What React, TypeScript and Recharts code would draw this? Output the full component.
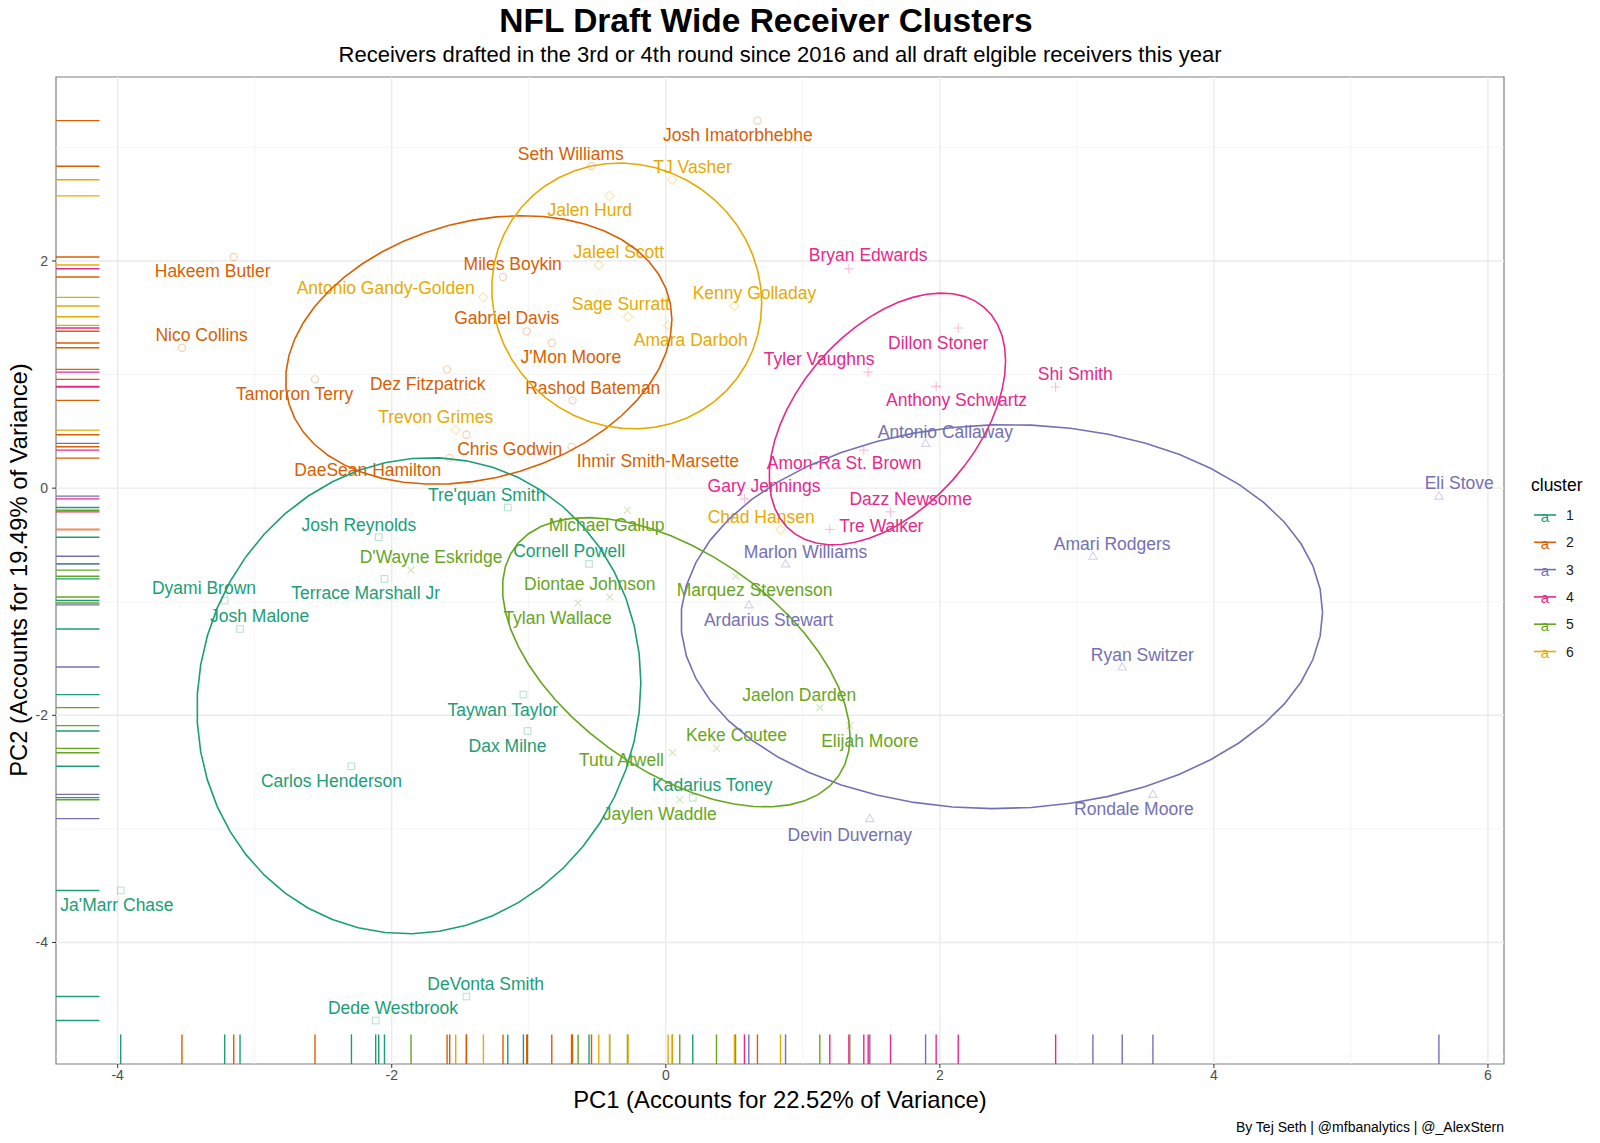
import React from 'react';
import { ScatterChart, Scatter, XAxis, YAxis, ReferenceLine, ReferenceArea } from 'recharts';

type Row = [string, number, number];
type Spot = [number, number];

const CLUSTERS = ['1', '2', '3', '4', '5', '6'];

// [receiver, PC1, PC2]
const cluster1: Row[] = [
  ["Tre'quan Smith", -1.153, -0.17],
  ['Josh Reynolds', -2.095, -0.432],
  ['Terrace Marshall Jr', -2.053, -0.799],
  ['Dyami Brown', -3.219, -0.989],
  ['Josh Malone', -3.107, -1.24],
  ['Cornell Powell', -0.56, -0.667],
  ['Taywan Taylor', -1.039, -1.818],
  ['Dax Milne', -1.009, -2.138],
  ['Carlos Henderson', -2.294, -2.449],
  ['Kadarius Toney', 0.197, -2.725],
  ["Ja'Marr Chase", -3.978, -3.542],
  ['DeVonta Smith', -1.455, -4.476],
  ['Dede Westbrook', -2.117, -4.687],
];
const cluster2: Row[] = [
  ['Hakeem Butler', -3.153, 2.035],
  ['Nico Collins', -3.531, 1.236],
  ['Tamorron Terry', -2.56, 0.958],
  ['Dez Fitzpatrick', -1.596, 1.046],
  ['Miles Boykin', -1.188, 1.859],
  ['Gabriel Davis', -1.015, 1.381],
  ["J'Mon Moore", -0.832, 1.278],
  ['Seth Williams', -0.542, 2.834],
  ['Josh Imatorbhebhe', 0.669, 3.236],
  ['Rashod Bateman', -0.681, 0.773],
  ['Chris Godwin', -1.455, 0.47],
  ['DaeSean Hamilton', -1.577, 0.264],
  ['Ihmir Smith-Marsette', -0.688, 0.364],
];
const cluster3: Row[] = [
  ['Antonio Callaway', 1.896, 0.394],
  ['Eli Stove', 5.642, -0.07],
  ['Amari Rodgers', 3.117, -0.599],
  ['Marlon Williams', 0.874, -0.667],
  ['Ardarius Stewart', 0.606, -1.028],
  ['Ryan Switzer', 3.331, -1.574],
  ['Rondale Moore', 3.555, -2.696],
  ['Devin Duvernay', 1.489, -2.91],
];
const cluster4: Row[] = [
  ['Bryan Edwards', 1.336, 1.932],
  ['Dillon Stoner', 2.134, 1.41],
  ['Tyler Vaughns', 1.477, 1.022],
  ['Anthony Schwartz', 1.973, 0.896],
  ['Shi Smith', 2.845, 0.89],
  ['Amon-Ra St. Brown', 1.445, 0.335],
  ['Gary Jennings', 0.574, -0.094],
  ['Dazz Newsome', 1.64, -0.209],
  ['Tre Walker', 1.197, -0.364],
];
const cluster5: Row[] = [
  ['Michael Gallup', -0.28, -0.194],
  ["D'Wayne Eskridge", -1.859, -0.722],
  ['Diontae Johnson', -0.409, -0.958],
  ['Tylan Wallace', -0.64, -1.011],
  ['Marquez Stevenson', 0.509, -0.775],
  ['Jaelon Darden', 1.124, -1.932],
  ['Elijah Moore', 1.343, -2.091],
  ['Keke Coutee', 0.37, -2.291],
  ['Tutu Atwell', 0.049, -2.329],
  ['Jaylen Waddle', 0.102, -2.743],
];
const cluster6: Row[] = [
  ['TJ Vasher', 0.046, 2.716],
  ['Jalen Hurd', -0.411, 2.573],
  ['Jaleel Scott', -0.489, 1.965],
  ['Antonio Gandy-Golden', -1.331, 1.68],
  ['Sage Surratt', -0.275, 1.509],
  ['Kenny Golladay', 0.501, 1.604],
  ['Amara Darboh', 0.017, 1.433],
  ['Trevon Grimes', -1.533, 0.511],
  ['Chad Hansen', 0.837, -0.364],
];

// where the repelled name labels sit, in PC units (same order as above)
const labels1: Spot[] = [
  [-1.307, -0.056], [-2.239, -0.323], [-2.19, -0.922], [-3.37, -0.878], [-2.964, -1.128],
  [-0.705, -0.552], [-1.19, -1.95], [-1.155, -2.267], [-2.44, -2.581], [0.339, -2.611],
  [-4.005, -3.668], [-1.314, -4.364], [-1.991, -4.575],
];
const labels2: Spot[] = [
  [-3.307, 1.912], [-3.387, 1.348], [-2.708, 0.828], [-1.737, 0.916], [-1.117, 1.974],
  [-1.161, 1.498], [-0.693, 1.154], [-0.693, 2.943], [0.526, 3.11], [-0.533, 0.881],
  [-1.139, 0.344], [-2.175, 0.159], [-0.058, 0.238],
];
const labels3: Spot[] = [
  [2.04, 0.496], [5.79, 0.041], [3.258, -0.496], [1.02, -0.561], [0.75, -1.163],
  [3.478, -1.465], [3.416, -2.828], [1.343, -3.051],
];
const labels4: Spot[] = [
  [1.477, 2.05], [1.988, 1.28], [1.119, 1.134], [2.122, 0.773], [2.988, 1.007],
  [1.301, 0.218], [0.717, 0.018], [1.787, -0.097], [1.573, -0.335],
];
const labels5: Spot[] = [
  [-0.431, -0.32], [-1.713, -0.605], [-0.555, -0.846], [-0.79, -1.139], [0.648, -0.899],
  [0.974, -1.818], [1.489, -2.226], [0.516, -2.176], [-0.323, -2.396], [-0.044, -2.872],
];
const labels6: Spot[] = [
  [0.195, 2.828], [-0.555, 2.449], [-0.343, 2.079], [-2.044, 1.759], [-0.328, 1.619],
  [0.647, 1.718], [0.182, 1.301], [-1.679, 0.628], [0.696, -0.253],
];

const xMajor = [-4, -2, 0, 2, 4, 6];
const xMinor = [-3, -1, 1, 3, 5];
const yMajor = [-4, -2, 0, 2];
const yMinor = [-5, -3, -1, 1, 3];

const ROWS = [cluster1, cluster2, cluster3, cluster4, cluster5, cluster6];
const LABELS = [labels1, labels2, labels3, labels4, labels5, labels6];
const COLORS = ['#1B9E77', '#D95F02', '#7570B3', '#E7298A', '#66A61E', '#E6AB02'];
const SHAPES = ['square', 'circle', 'triangle', 'plus', 'cross', 'diamond'];

const FONT = "'Liberation Sans', Arial, Helvetica, sans-serif";
const X_DOMAIN: [number, number] = [-4.45, 6.117];
const Y_DOMAIN: [number, number] = [-5.07, 3.62];
const PLOT_W = 1448;
const PLOT_H = 987;
const ELLIPSE_LEVEL = 0.675;

// MASS::cov.trob, like stat_ellipse(type = "t")
function covTrob(pts: { x: number; y: number }[]) {
  const n = pts.length;
  const nu = 5;
  let lx = pts.reduce((s, p) => s + p.x, 0) / n;
  let ly = pts.reduce((s, p) => s + p.y, 0) / n;
  let w = pts.map(() => 1);
  let X = pts.map((p) => [p.x - lx, p.y - ly]);
  for (let iter = 0; iter < 25; iter++) {
    const w0 = w.slice();
    X = pts.map((p) => [p.x - lx, p.y - ly]);
    const sw = w.reduce((s, v) => s + v, 0);
    let a = 0, b = 0, c = 0;
    X.forEach((d, i) => {
      a += (w[i] * d[0] * d[0]) / sw;
      b += (w[i] * d[0] * d[1]) / sw;
      c += (w[i] * d[1] * d[1]) / sw;
    });
    const det = a * c - b * b;
    const Q = X.map((d) => (c * d[0] * d[0] - 2 * b * d[0] * d[1] + a * d[1] * d[1]) / det);
    w = Q.map((q) => (nu + 2) / (nu + q));
    const sw2 = w.reduce((s, v) => s + v, 0);
    lx = pts.reduce((s, p, i) => s + w[i] * p.x, 0) / sw2;
    ly = pts.reduce((s, p, i) => s + w[i] * p.y, 0) / sw2;
    if (w.every((v, i) => Math.abs(v - w0[i]) < 0.01)) break;
  }
  let s11 = 0, s12 = 0, s22 = 0;
  X.forEach((d, i) => {
    s11 += w[i] * d[0] * d[0];
    s12 += w[i] * d[0] * d[1];
    s22 += w[i] * d[1] * d[1];
  });
  return { cx: lx, cy: ly, s11: s11 / n, s12: s12 / n, s22: s22 / n };
}

function ellipseOf(pts: { x: number; y: number }[]) {
  const v = covTrob(pts);
  const dfd = pts.length - 1;
  // qf(level, 2, dfd) has a closed form when df1 = 2
  const qf = (dfd / 2) * (Math.pow(1 - ELLIPSE_LEVEL, -2 / dfd) - 1);
  const r = Math.sqrt(2 * qf);
  const A = Math.sqrt(v.s11);
  const B = v.s12 / A;
  const C = Math.sqrt(v.s22 - B * B);
  const out: { x: number; y: number }[] = [];
  for (let k = 0; k <= 51; k++) {
    const t = (k * 2 * Math.PI) / 51;
    out.push({ x: v.cx + r * A * Math.cos(t), y: v.cy + r * (B * Math.cos(t) + C * Math.sin(t)) });
  }
  return out;
}

const groups = CLUSTERS.map((id, i) => {
  const pts = ROWS[i].map(([name, x, y]) => ({ name, x, y }));
  const labels = ROWS[i].map(([name], j) => ({ name, x: LABELS[i][j][0], y: LABELS[i][j][1] }));
  return {
    id,
    color: COLORS[i],
    shape: SHAPES[i],
    pts,
    labels,
    leftRug: pts.map((p) => ({ x: X_DOMAIN[0], y: p.y })),
    bottomRug: pts.map((p) => ({ x: p.x, y: Y_DOMAIN[0] })),
    ellipse: ellipseOf(pts),
  };
});

const marker = (kind: string, color: string) => (props: any) => {
  const { cx, cy } = props;
  const st = { fill: 'none', stroke: color, strokeOpacity: 0.3, strokeWidth: 1.1 };
  if (kind === 'square') return <rect x={cx - 3.3} y={cy - 3.3} width={6.6} height={6.6} {...st} />;
  if (kind === 'circle') return <circle cx={cx} cy={cy} r={3.6} {...st} />;
  if (kind === 'triangle')
    return <path d={`M${cx},${cy - 4.3}L${cx + 4.3},${cy + 3}L${cx - 4.3},${cy + 3}Z`} {...st} />;
  if (kind === 'plus') return <path d={`M${cx - 4.8},${cy}H${cx + 4.8}M${cx},${cy - 4.8}V${cy + 4.8}`} {...st} />;
  if (kind === 'cross')
    return <path d={`M${cx - 3.4},${cy - 3.4}L${cx + 3.4},${cy + 3.4}M${cx - 3.4},${cy + 3.4}L${cx + 3.4},${cy - 3.4}`} {...st} />;
  return <path d={`M${cx},${cy - 4.7}L${cx + 4.7},${cy}L${cx},${cy + 4.7}L${cx - 4.7},${cy}Z`} {...st} />;
};

const nameTag = (color: string) => (props: any) => (
  <text x={props.cx} y={props.cy} textAnchor="middle" dominantBaseline="central" fill={color} fontSize={17.5} fontFamily={FONT}>
    {props.payload.name}
  </text>
);

const leftTick = (color: string) => (props: any) => (
  <line x1={props.cx} x2={props.cx + PLOT_W * 0.03} y1={props.cy} y2={props.cy} stroke={color} strokeWidth={1.4} />
);
const bottomTick = (color: string) => (props: any) => (
  <line x1={props.cx} x2={props.cx} y1={props.cy} y2={props.cy - PLOT_H * 0.03} stroke={color} strokeWidth={1.4} />
);
const nothing = () => <g />;

export default function App() {
  return (
    <div style={{ position: 'absolute', left: 0, top: 0, width: 1600, height: 1143, background: '#fff', fontFamily: FONT }}>
      <div style={{ position: 'absolute', left: 766, top: 21, transform: 'translate(-50%, -50%)', fontSize: 33.5, fontWeight: 'bold', whiteSpace: 'nowrap', color: '#000' }}>
        NFL Draft Wide Receiver Clusters
      </div>
      <div style={{ position: 'absolute', left: 780, top: 55, transform: 'translate(-50%, -50%)', fontSize: 22, whiteSpace: 'nowrap', color: '#000' }}>
        Receivers drafted in the 3rd or 4th round since 2016 and all draft elgible receivers this year
      </div>

      <ScatterChart width={1600} height={1143} margin={{ top: 77, right: 96, bottom: 49, left: 18 }}>
        <XAxis type="number" dataKey="x" domain={X_DOMAIN} allowDataOverflow ticks={xMajor} height={30}
          axisLine={false} tickSize={4} tickLine={{ stroke: '#333333' }}
          tick={{ fill: '#4D4D4D', fontSize: 14, fontFamily: FONT }} />
        <YAxis type="number" dataKey="y" domain={Y_DOMAIN} allowDataOverflow ticks={yMajor} width={38}
          axisLine={false} tickSize={4} tickMargin={4} tickLine={{ stroke: '#333333' }}
          tick={{ fill: '#4D4D4D', fontSize: 14, fontFamily: FONT }} />

        {xMinor.map((v) => <ReferenceLine key={'xm' + v} x={v} stroke="#F2F2F2" strokeWidth={0.8} />)}
        {yMinor.map((v) => <ReferenceLine key={'ym' + v} y={v} stroke="#F2F2F2" strokeWidth={0.8} />)}
        {xMajor.map((v) => <ReferenceLine key={'xM' + v} x={v} stroke="#EBEBEB" strokeWidth={1.4} />)}
        {yMajor.map((v) => <ReferenceLine key={'yM' + v} y={v} stroke="#EBEBEB" strokeWidth={1.4} />)}

        {groups.map((g) => (
          <Scatter key={'lr' + g.id} data={g.leftRug} shape={leftTick(g.color)} isAnimationActive={false} />
        ))}
        {groups.map((g) => (
          <Scatter key={'br' + g.id} data={g.bottomRug} shape={bottomTick(g.color)} isAnimationActive={false} />
        ))}
        {groups.map((g) => (
          <Scatter key={'pt' + g.id} data={g.pts} shape={marker(g.shape, g.color)} isAnimationActive={false} />
        ))}
        {groups.map((g) => (
          <Scatter key={'lb' + g.id} data={g.labels} shape={nameTag(g.color)} isAnimationActive={false} />
        ))}
        {groups.map((g) => (
          <Scatter key={'el' + g.id} data={g.ellipse} shape={nothing} line={{ stroke: g.color, strokeWidth: 1.6 }}
            lineType="joint" isAnimationActive={false} />
        ))}

        <ReferenceArea x1={X_DOMAIN[0]} x2={X_DOMAIN[1]} y1={Y_DOMAIN[0]} y2={Y_DOMAIN[1]}
          fill="none" fillOpacity={0} stroke="#7F7F7F" strokeWidth={1.2} ifOverflow="visible" />
      </ScatterChart>

      <div style={{ position: 'absolute', left: 780, top: 1100, transform: 'translate(-50%, -50%)', fontSize: 23.8, whiteSpace: 'nowrap', color: '#000' }}>
        PC1 (Accounts for 22.52% of Variance)
      </div>
      <div style={{ position: 'absolute', left: 19, top: 570, transform: 'translate(-50%, -50%) rotate(-90deg)', fontSize: 23.8, whiteSpace: 'nowrap', color: '#000' }}>
        PC2 (Accounts for 19.49% of Variance)
      </div>
      <div style={{ position: 'absolute', right: 96, top: 1127, transform: 'translateY(-50%)', fontSize: 14, whiteSpace: 'nowrap', color: '#000' }}>
        By Tej Seth | @mfbanalytics | @_AlexStern
      </div>

      <svg style={{ position: 'absolute', left: 1520, top: 468 }} width={80} height={200}>
        <text x={11} y={17} dominantBaseline="central" fontSize={17.5} fontFamily={FONT} fill="#000">cluster</text>
        {groups.map((g, i) => (
          <g key={'lg' + g.id} transform={`translate(0, ${47 + i * 27.3})`}>
            <line x1={14} x2={36} y1={0} y2={0} stroke={g.color} strokeWidth={1.6} />
            <text x={25} y={1} textAnchor="middle" dominantBaseline="central" fontSize={15} fontFamily={FONT} fill={g.color}>a</text>
            <text x={50} y={0} textAnchor="middle" dominantBaseline="central" fontSize={14} fontFamily={FONT} fill="#1A1A1A">{g.id}</text>
          </g>
        ))}
      </svg>
    </div>
  );
}
